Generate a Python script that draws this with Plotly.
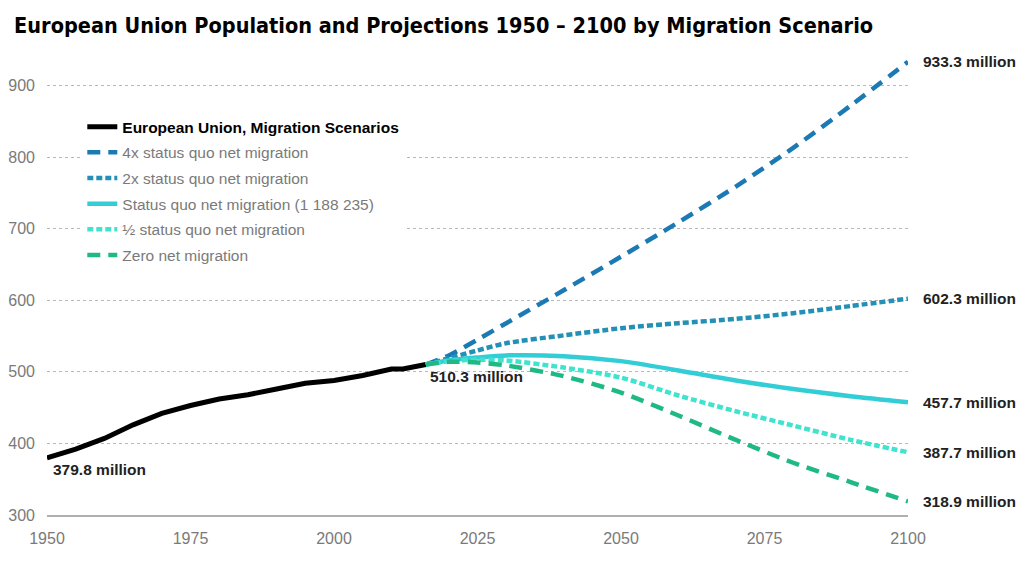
import plotly.graph_objects as go

# historical estimates (millions)
hist_years = [1950, 1955, 1960, 1965, 1970, 1975, 1980, 1985, 1990, 1995, 2000, 2005, 2010, 2012, 2016]
hist_pop = [379.8, 392, 407, 426, 442, 453, 462, 468, 476, 484, 488, 495, 504, 504, 510.3]

# projections by migration scenario (millions)
proj_years = [2016, 2020, 2025, 2030, 2040, 2050, 2060, 2070, 2080, 2090, 2100]
pop_4x = [510.3, 523, 545, 568, 614, 661, 709, 759, 813, 872, 933.3]
pop_2x = [510.3, 519, 530, 540, 551, 561, 568, 574, 582, 592, 602.3]
pop_sq = [510.3, 516, 520, 523, 522, 515, 502, 488, 476, 466, 457.7]
pop_half = [510.3, 515, 517, 516, 506, 492, 467, 445, 425, 405, 387.7]
pop_zero = [510.3, 514, 513, 509, 494, 471, 439, 405, 373, 346, 318.9]

GREY = "#7a7a7a"
FONT = "Arial, Liberation Sans, sans-serif"
LABEL_FONT = dict(family=FONT, size=15.5, color="#222222")

scenarios = [
    ("4x status quo net migration", pop_4x, "#1b7ab3", "13px,8px"),
    ("2x status quo net migration", pop_2x, "#2590b5", "6px,3px"),
    ("Status quo net migration (1 188 235)", pop_sq, "#33cdd6", "solid"),
    ("½ status quo net migration", pop_half, "#3fe3cf", "6px,3px"),
    ("Zero net migration", pop_zero, "#1fb985", "13px,8px"),
]

fig = go.Figure()
fig.add_scatter(x=hist_years, y=hist_pop, mode="lines",
                name="<b>European Union, Migration Scenarios</b>",
                legendgroup="hist",
                line=dict(color="black", width=5))

for name, vals, color, dash in scenarios:
    fig.add_scatter(x=proj_years, y=vals, mode="lines",
                    name=f"<span style='color:{GREY}'>{name}</span>",
                    legendgroup=name,
                    line=dict(color=color, width=4.5, dash=dash, shape="spline", smoothing=0.8))

# value labels
fig.add_annotation(x=hist_years[0], y=hist_pop[0], text=f"<b>{hist_pop[0]} million</b>",
                   xanchor="left", yanchor="top", showarrow=False, yshift=-1, xshift=4, font=LABEL_FONT)
fig.add_annotation(x=hist_years[-1], y=hist_pop[-1], text=f"<b>{hist_pop[-1]} million</b>",
                   xanchor="left", yanchor="top", showarrow=False, yshift=-1, xshift=2, font=LABEL_FONT)
for name, vals, color, dash in scenarios:
    fig.add_annotation(x=proj_years[-1], y=vals[-1], text=f"<b>{vals[-1]} million</b>",
                       xanchor="left", yanchor="middle", showarrow=False, xshift=13, font=LABEL_FONT)

# page body adds an 8px margin, so the figure is 8px smaller than the window
fig.update_layout(
    width=1016, height=568,
    paper_bgcolor="white", plot_bgcolor="white",
    margin=dict(l=39, r=116, t=49, b=61, autoexpand=False),
    title=dict(text="<b>European Union Population and Projections 1950 – 2100 by Migration Scenario</b>",
               x=0.006, xanchor="left", y=0.97, yanchor="middle",
               font=dict(family="Liberation Sans Narrow, Arial Narrow, DejaVu Sans Condensed, sans-serif",
                         size=21.5, color="black")),
    legend=dict(x=0.041, y=0.884, xanchor="left", yanchor="top",
                bgcolor="white", borderwidth=0,
                traceorder="grouped", tracegroupgap=2.5, itemwidth=30,
                font=dict(family=FONT, size=15.5, color="black")),
    showlegend=True,
)
fig.update_xaxes(range=[1950, 2100], dtick=25, tick0=1950, showgrid=False,
                 showline=True, linecolor="#b0b0b0", linewidth=1.5, ticks="",
                 ticklabelstandoff=8,
                 tickfont=dict(family=FONT, size=16, color=GREY),
                 automargin=False, zeroline=False)
fig.update_yaxes(range=[300, 940], dtick=100, tick0=300, showgrid=True,
                 gridcolor="#b8b8b8", griddash="dot", gridwidth=1, ticks="",
                 ticklabelstandoff=11,
                 tickfont=dict(family=FONT, size=16, color=GREY),
                 automargin=False, zeroline=False)

fig.write_html("out.html")
